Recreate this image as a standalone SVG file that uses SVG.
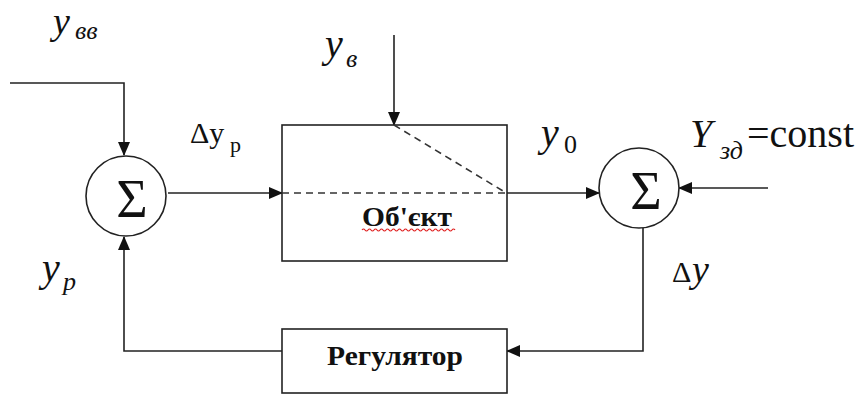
<svg xmlns="http://www.w3.org/2000/svg" width="861" height="396" viewBox="0 0 861 396">
<defs>
<marker id="arr" markerWidth="14" markerHeight="12" refX="13" refY="6" orient="auto" markerUnits="userSpaceOnUse">
<path d="M0,0 L14,6 L0,12 Z" fill="#111"/>
</marker>
</defs>
<rect width="861" height="396" fill="#fff"/>
<g id="connectors" fill="none" stroke="#222" stroke-width="1.6">
<path d="M10,83 H124 V155" marker-end="url(#arr)"/>
<path d="M168,193 H282" marker-end="url(#arr)"/>
<path d="M394,35 V125" marker-end="url(#arr)"/>
<path d="M507,193 H599" marker-end="url(#arr)"/>
<path d="M768,188 H679" marker-end="url(#arr)"/>
<path d="M643,228 V351 H507" marker-end="url(#arr)"/>
<path d="M282,351 H124 V237" marker-end="url(#arr)"/>
</g>
<g id="sum1">
<circle cx="126" cy="196" r="40" fill="#fff" stroke="#222" stroke-width="1.6"/>
<text x="132" y="217" font-size="54" text-anchor="middle" font-family="Times New Roman, Liberation Serif, serif" fill="#111">Σ</text>
</g>
<g id="object">
<rect x="282" y="125" width="225" height="136" fill="#fff" stroke="#222" stroke-width="1.6"/>
<path d="M282,193 H507 M394,125 L503,191" fill="none" stroke="#333" stroke-width="1.6" stroke-dasharray="7,5"/>
<text x="362" y="226" font-size="27" font-weight="bold" font-family="Times New Roman, Liberation Serif, serif" fill="#111" textLength="90" lengthAdjust="spacingAndGlyphs">Об'єкт</text>
<path d="M362,230 q1.5,-2 3,0 t3,0 t3,0 t3,0 t3,0 t3,0 t3,0 t3,0 t3,0 t3,0 t3,0 t3,0 t3,0 t3,0 t3,0 t3,0 t3,0 t3,0 t3,0 t3,0 t3,0 t3,0 t3,0 t3,0 t3,0 t3,0 t3,0 t3,0 t3,0 t3,0 t3,0" fill="none" stroke="#e02020" stroke-width="1.2"/>
</g>
<g id="sum2">
<circle cx="639" cy="188" r="40" fill="#fff" stroke="#222" stroke-width="1.6"/>
<text x="646" y="209" font-size="54" text-anchor="middle" font-family="Times New Roman, Liberation Serif, serif" fill="#111">Σ</text>
</g>
<g id="regulator">
<rect x="282" y="329" width="225" height="64" fill="#fff" stroke="#222" stroke-width="1.6"/>
<text x="327" y="365" font-size="27" font-weight="bold" font-family="Times New Roman, Liberation Serif, serif" fill="#111" textLength="136" lengthAdjust="spacingAndGlyphs">Регулятор</text>
</g>
<g id="labels" fill="#111" font-family="Times New Roman, Liberation Serif, serif">
<text font-style="italic" x="53" y="34" font-size="38">y</text>
<text font-style="italic" x="75" y="39" font-size="26">вв</text>
<text font-style="italic" x="325" y="57" font-size="40">y</text>
<text font-style="italic" x="346" y="67" font-size="26">в</text>
<text x="190" y="143" font-size="30">Δy</text>
<text x="230" y="152" font-size="22">p</text>
<text font-style="italic" x="541" y="146" font-size="40">y</text>
<text x="564" y="153" font-size="26">0</text>
<text font-style="italic" x="690" y="147" font-size="40">Y</text>
<text font-style="italic" x="720" y="159" font-size="26">зд</text>
<text x="747" y="147" font-size="40">=const</text>
<text font-style="italic" x="42" y="281" font-size="40">y</text>
<text font-style="italic" x="63" y="290" font-size="26">p</text>
<text x="672" y="282" font-size="30">Δ</text>
<text font-style="italic" x="692" y="282" font-size="38">y</text>
</g>
</svg>
